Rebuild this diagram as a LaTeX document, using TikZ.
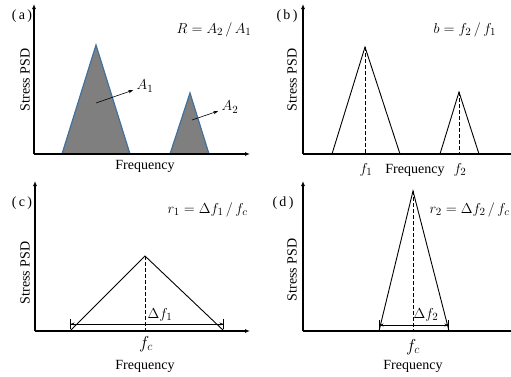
\documentclass[tikz,border=0pt]{standalone}
\usepackage{fontspec}
\setmainfont{Liberation Serif}
\usepackage{xcolor}
\usetikzlibrary{positioning}
\usetikzlibrary{arrows.meta}
\definecolor{peakgray}{HTML}{7F7F7F}
\definecolor{peakblue}{HTML}{41719C}

\begin{document}
\begin{tikzpicture}[x=1pt,y=-1pt,
  font=\fontsize{14}{16}\selectfont,
  axis/.style={line width=1.3pt,-{Latex[length=5pt,width=4pt]}},
  peak/.style={line width=0.9pt},
  filledpeak/.style={fill=peakgray,draw=peakblue,line width=1.2pt},
  guide/.style={dash pattern=on 4pt off 2pt,line width=0.6pt},
  pointer/.style={-{Stealth[length=5pt,width=3.5pt]},line width=0.6pt},
  span/.style={line width=0.6pt,
    {Bar[width=10pt]Stealth[length=4pt,width=3pt,open]}-{Stealth[length=4pt,width=3pt,open]Bar[width=10pt]}},
  formula/.style={font=\fontsize{15.5}{18}\selectfont},
  bigsym/.style={font=\fontsize{18}{20}\selectfont},
  ylab/.style={rotate=90}]
  \clip (0,0) rectangle (511,376);

  % (a) areas of the two peaks
  \coordinate (oa) at (34,154);
  \coordinate (ya) at (34,4);
  \coordinate (xa) at (250,154);
  \coordinate (a1l) at (62,154);
  \coordinate (a1t) at (96,45);
  \coordinate (a1r) at (130,154);
  \coordinate (a2l) at (170,154);
  \coordinate (a2t) at (190,93);
  \coordinate (a2r) at (209,154);
  \draw[filledpeak] (a1l) -- (a1t) -- (a1r) -- cycle;
  \draw[filledpeak] (a2l) -- (a2t) -- (a2r) -- cycle;
  \draw[axis] (oa) -- (ya);
  \draw[axis] (oa) -- (xa);
  \coordinate (a1in) at (96,103);
  \coordinate (a2in) at (192,120);
  \node[formula] (A1) at (145,86) {$A_1$};
  \node[formula] (A2) at (230,107) {$A_2$};
  \draw[pointer] (a1in) -- (A1);
  \draw[pointer] (a2in) -- (A2);
  \node (taga) at (22,16) {(\,a\,)};
  \node[formula,anchor=east] (Ra) at (255,30) {$R = A_2\,/\,A_1$};
  \node (fa) at (145,166) {Frequency};
  \node[ylab] (sa) at (25,80) {Stress PSD};

  % (b) peak frequencies
  \coordinate (ob) at (303,154);
  \coordinate (yb) at (303,4);
  \coordinate (xb) at (518,154);
  \coordinate (b1l) at (332,154);
  \coordinate (b1t) at (365,47);
  \coordinate (b1r) at (400,154);
  \coordinate (b2l) at (440,154);
  \coordinate (b2t) at (459,92);
  \coordinate (b2r) at (479,154);
  \draw[peak] (b1l) -- (b1t) -- (b1r);
  \draw[peak] (b2l) -- (b2t) -- (b2r);
  \draw[guide] (b1t) -- (b1t |- ob);
  \draw[guide] (b2t) -- (b2t |- ob);
  \draw[axis] (ob) -- (yb);
  \draw[axis] (ob) -- (xb);
  \node[formula] (f1) at (366,170) {$f_1$};
  \node (fb) at (415,170) {Frequency};
  \node[formula] (f2) at (460,170) {$f_2$};
  \node (tagb) at (287,16) {(\,b\,)};
  \node[formula,anchor=west] (Rb) at (430,30) {$b = f_2\,/\,f_1$};
  \node[ylab] (sb) at (292,80) {Stress PSD};

  % (c) wide peak
  \coordinate (oc) at (35,331);
  \coordinate (yc) at (35,181);
  \coordinate (xc) at (250,331);
  \coordinate (cl) at (70,331);
  \coordinate (ct) at (145,256);
  \coordinate (cr) at (224,331);
  \coordinate (cs1) at (70,324);
  \coordinate (cs2) at (224,324);
  \draw[peak] (cl) -- (ct) -- (cr);
  \draw[guide] (ct) -- (ct |- oc);
  \draw[span] (cs1) -- (cs2);
  \draw[axis] (oc) -- (yc);
  \draw[axis] (oc) -- (xc);
  \node[formula] (df1) at (160,315) {$\Delta f_1$};
  \node[bigsym] (fcc) at (146,344) {$f_c$};
  \node (fc) at (145,366) {Frequency};
  \node (tagc) at (22,203) {(\,c\,)};
  \node[formula,anchor=west] (Rc) at (164,210) {$r_1 = \Delta f_1\,/\,f_c$};
  \node[ylab] (sc) at (25,273) {Stress PSD};

  % (d) narrow peak
  \coordinate (od) at (303,331);
  \coordinate (yd) at (303,181);
  \coordinate (xd) at (518,331);
  \coordinate (dl) at (379,331);
  \coordinate (dt) at (413,191);
  \coordinate (dr) at (449,331);
  \coordinate (ds1) at (379,325);
  \coordinate (ds2) at (449,325);
  \draw[peak] (dl) -- (dt) -- (dr);
  \draw[guide] (dt) -- (dt |- od);
  \draw[span] (ds1) -- (ds2);
  \draw[axis] (od) -- (yd);
  \draw[axis] (od) -- (xd);
  \node[formula] (df2) at (426,315) {$\Delta f_2$};
  \node[bigsym] (fcd) at (413,347) {$f_c$};
  \node (fd) at (413,366) {Frequency};
  \node (tagd) at (283,203) {(\,d\,)};
  \node[formula,anchor=west] (Rd) at (426,210) {$r_2 = \Delta f_2\,/\,f_c$};
  \node[ylab] (sd) at (292,270) {Stress PSD};
\end{tikzpicture}
\end{document}
